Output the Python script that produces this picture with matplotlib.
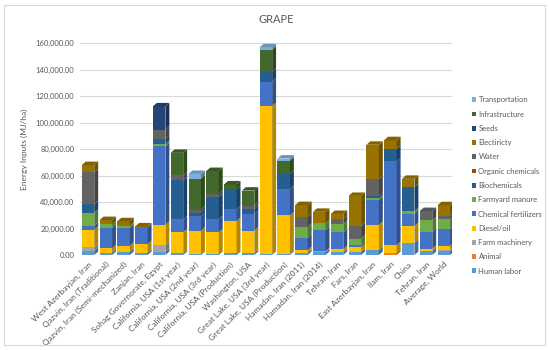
import numpy as np
import matplotlib.pyplot as plt
from matplotlib.patches import Polygon, Rectangle
from matplotlib.colors import to_rgb

plt.rcParams['font.family'] = ['Lato', 'DejaVu Sans']

categories = ["West Azerbayjan, Iran", "Qazvin, Iran (Traditional)", "Qazvin, Iran (Semi-mechanized)",
              "Zanjan, Iran", "Sohag Governorate, Egypt", "California, USA (1st year)",
              "California, USA (2nd year)", "California, USA (3rd year)", "California, USA (Production)",
              "Washington, USA", "Great Lake, USA (3rd year)", "Great Lake, USA (Production)",
              "Hamadan, Iran (2011)", "Hamadan, Iran (2014)", "Tehran, Iran", "Fars, Iran",
              "East Azerbayjan, Iran", "Ilam, Iran", "China", "Tehran, Iran", "Average, World"]

# values in thousand MJ/ha
human_labor    = [3.4, 1.8, 2.5, 1.8, 2.5, 1.3, 1.0, 0.8, 1.2, 1.5, 0.5, 0.5, 1.8, 2.0, 2.0, 2.3, 3.8, 0.0, 9.3, 3.0, 3.0]
animal         = [0, 0, 0, 0, 0, 0, 0, 0, 0, 0, 0, 0, 0, 0, 0, 0, 0, 1.8, 0, 0, 0]
farm_machinery = [2.3, 0, 0, 0, 5.0, 0, 0, 0, 0, 0, 0, 0, 0, 0.8, 0, 0, 0, 0, 0, 0, 1.0]
diesel_oil     = [13.3, 3.3, 4.6, 6.6, 15.4, 15.9, 17.4, 16.5, 24.5, 16.9, 112.0, 29.5, 2.0, 0, 2.5, 3.8, 18.9, 5.8, 12.6, 1.8, 3.0]
chem_fert      = [3.1, 15.4, 13.3, 12.3, 59.0, 9.7, 10.8, 10.0, 8.8, 12.6, 18.4, 20.0, 9.3, 16.0, 12.6, 1.5, 18.6, 63.0, 9.3, 12.6, 12.6]
manure         = [9.9, 2.6, 1.8, 0, 2.0, 0, 0, 0, 0, 0, 0, 0, 8.3, 5.0, 6.3, 4.8, 1.5, 0, 2.0, 8.8, 7.5]
biochemicals   = [6.2, 0, 0, 0, 3.8, 29.4, 2.5, 16.6, 15.0, 3.8, 7.5, 11.3, 0, 0, 0, 0, 1.8, 9.3, 18.0, 0, 0]
organic_chem   = [0] * 21
water          = [24.2, 0, 0, 0, 7.0, 3.8, 2.5, 2.5, 0, 2.5, 0, 0, 7.5, 0, 3.8, 9.6, 12.6, 0, 0, 7.0, 2.5]
electricity    = [5.5, 3.3, 3.3, 0.9, 0, 0, 0, 0, 0, 0, 0, 0, 8.8, 8.8, 3.8, 22.6, 26.0, 6.8, 6.3, 0, 8.0]
seeds          = [0, 0, 0, 0, 17.5, 0, 0, 0, 0, 0, 0, 0, 0, 0, 0, 0, 0, 0, 0, 0, 0]
infrastructure = [0, 0, 0, 0, 0, 17.0, 23.5, 17.0, 3.8, 11.3, 16.4, 10.0, 0, 0, 0, 0, 0, 0, 0, 0, 0]
transportation = [0, 0, 0, 0, 0, 0, 3.5, 0, 0, 0, 2.0, 1.5, 0, 0, 0, 0, 0, 0, 0, 0, 0]

series_names = ["Human labor", "Animal", "Farm machinery", "Diesel/oil", "Chemical fertilizers",
                "Farmyard manure", "Biochemicals", "Organic chemicals", "Water", "Electiricty",
                "Seeds", "Infrastructure", "Transportation"]
series = [human_labor, animal, farm_machinery, diesel_oil, chem_fert, manure, biochemicals,
          organic_chem, water, electricity, seeds, infrastructure, transportation]
colors = ["#5B9BD5", "#ED7D31", "#A5A5A5", "#FFC000", "#4472C4", "#70AD47", "#255E91",
          "#9E480E", "#636363", "#997300", "#264478", "#43682B", "#7CAFDD"]

txt = "#595959"
x = np.arange(len(categories))
w = 0.7
dx = 0.22      # fake 3d depth (x data units)
dy = 2600      # fake 3d depth (y data units)

fig = plt.figure(figsize=(5.5, 3.5), dpi=100)
ax = fig.add_axes([0.1455, 0.2714, 0.676, 0.6057])

def shade(c, f):
    r, g, b = to_rgb(c)
    return (r * f, g * f, b * f)

bottom = np.zeros(len(categories))
top_color = [None] * len(categories)
for name, vals, c in zip(series_names, series, colors):
    v = np.array(vals) * 1000
    ax.bar(x, v, w, bottom=bottom, color=c, label=name, zorder=3, linewidth=0)
    for j in range(len(x)):
        if v[j] > 0:
            xr = x[j] + w / 2
            b, t = bottom[j], bottom[j] + v[j]
            ax.add_patch(Polygon([(xr, b), (xr + dx, b + dy), (xr + dx, t + dy), (xr, t)],
                                 closed=True, color=shade(c, 0.7), lw=0, zorder=3))
            top_color[j] = c
    bottom = bottom + v

# top caps
for j in range(len(x)):
    t = bottom[j]
    xl, xr = x[j] - w / 2, x[j] + w / 2
    ax.add_patch(Polygon([(xl, t), (xl + dx, t + dy), (xr + dx, t + dy), (xr, t)],
                         closed=True, color=shade(top_color[j], 0.85), lw=0, zorder=3))

ax.set_ylim(0, 160000)
ax.set_xlim(-0.45, len(categories) - 0.55)
ax.set_yticks(np.arange(0, 160001, 20000))
ax.set_yticklabels(["{:,.2f}".format(t) for t in np.arange(0, 160001, 20000)], fontsize=5.5, color=txt)
ax.set_xticks(x)
ax.set_xticklabels(categories, rotation=45, ha='right', rotation_mode='anchor', fontsize=6, color=txt)
ax.tick_params(length=0, pad=4)
ax.grid(axis='y', color='#D9D9D9', linewidth=0.8, zorder=0)
for s in ax.spines.values():
    s.set_visible(False)
ax.set_ylabel("Energy Inputs (MJ/ha)", fontsize=6, color=txt, labelpad=6)

fig.text(0.503, 0.945, "GRAPE", ha='center', va='center', fontsize=8, color=txt)

h, l = ax.get_legend_handles_labels()
leg = fig.legend(h[::-1], l[::-1], loc='center left', bbox_to_anchor=(0.845, 0.47), frameon=False,
                 fontsize=5.5, labelcolor=txt, handlelength=0.6, handleheight=0.6,
                 handletextpad=0.3, labelspacing=0.95)

fig.patches.append(Rectangle((0.007, 0.014), 0.984, 0.972, transform=fig.transFigure,
                             fill=False, edgecolor='#D9D9D9', linewidth=0.8))

fig.savefig("out.png", dpi=100)
